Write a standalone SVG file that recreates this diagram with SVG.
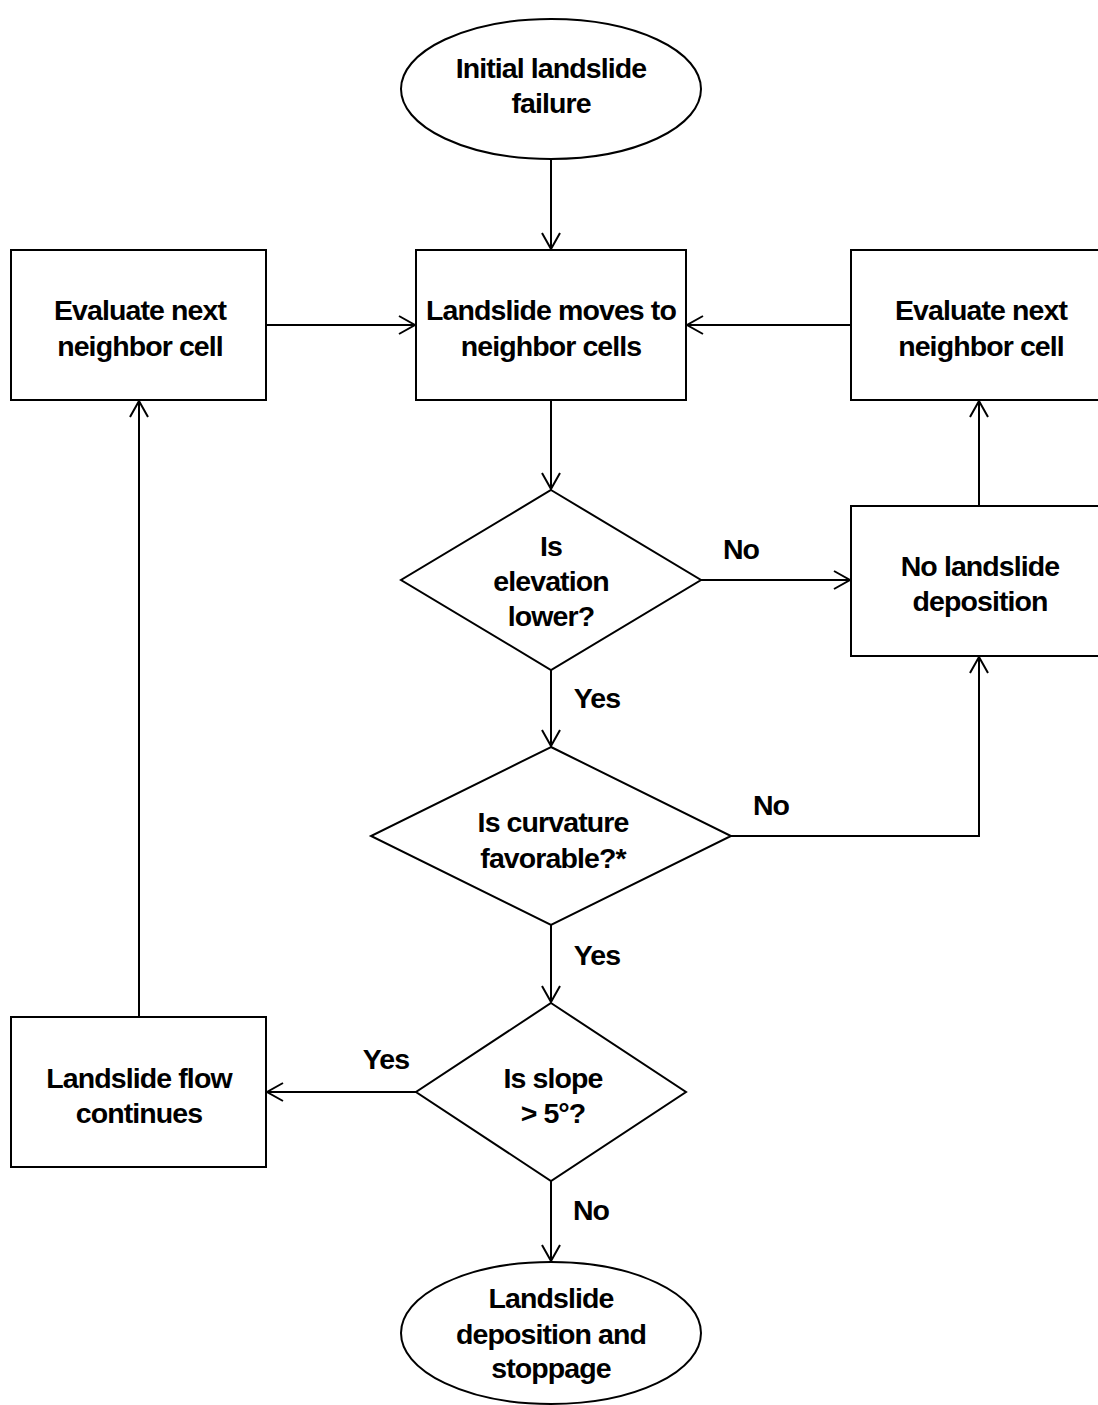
<svg xmlns="http://www.w3.org/2000/svg" width="1098" height="1405" viewBox="0 0 1098 1405">
  <style>
    .shape { fill: #ffffff; stroke: #000000; stroke-width: 2; }
    .edge { fill: none; stroke: #000000; stroke-width: 2; }
    text { font-family: "Liberation Sans", Arial, sans-serif; font-weight: bold; font-size: 28.5px; letter-spacing: -0.9px; fill: #000000; text-anchor: middle; }
  </style>
  <defs>
    <marker id="arrow" viewBox="0 0 20 20" refX="18" refY="10" markerWidth="20" markerHeight="20" markerUnits="userSpaceOnUse" orient="auto">
      <path d="M2,1 L18,10 L2,19" fill="none" stroke="#000000" stroke-width="2"/>
    </marker>
  </defs>
  <rect width="1098" height="1405" fill="#ffffff"/>

  <!-- connectors -->
  <g id="connectors">
    <line class="edge" x1="551" y1="160" x2="551" y2="249" marker-end="url(#arrow)"/>
    <line class="edge" x1="266" y1="325" x2="415" y2="325" marker-end="url(#arrow)"/>
    <line class="edge" x1="851" y1="325" x2="687" y2="325" marker-end="url(#arrow)"/>
    <line class="edge" x1="551" y1="400" x2="551" y2="489" marker-end="url(#arrow)"/>
    <line class="edge" x1="701" y1="580" x2="850" y2="580" marker-end="url(#arrow)"/>
    <line class="edge" x1="979" y1="506" x2="979" y2="401" marker-end="url(#arrow)"/>
    <line class="edge" x1="551" y1="670" x2="551" y2="746" marker-end="url(#arrow)"/>
    <polyline class="edge" points="731,836 979,836 979,657" marker-end="url(#arrow)"/>
    <line class="edge" x1="551" y1="925" x2="551" y2="1002" marker-end="url(#arrow)"/>
    <line class="edge" x1="416" y1="1092" x2="267" y2="1092" marker-end="url(#arrow)"/>
    <line class="edge" x1="139" y1="1017" x2="139" y2="401" marker-end="url(#arrow)"/>
    <line class="edge" x1="551" y1="1181" x2="551" y2="1261" marker-end="url(#arrow)"/>
    <text x="741" y="559">No</text>
    <text x="597" y="708">Yes</text>
    <text x="771" y="815">No</text>
    <text x="597" y="965">Yes</text>
    <text x="386" y="1069">Yes</text>
    <text x="591" y="1220">No</text>
  </g>

  <g id="start">
    <ellipse class="shape" cx="551" cy="89" rx="150" ry="70"/>
    <text x="551" y="78">Initial landslide</text>
    <text x="551" y="113">failure</text>
  </g>

  <g id="moves">
    <rect class="shape" x="416" y="250" width="270" height="150"/>
    <text x="551" y="320">Landslide moves to</text>
    <text x="551" y="356">neighbor cells</text>
  </g>

  <g id="next-left">
    <rect class="shape" x="11" y="250" width="255" height="150"/>
    <text x="140" y="320">Evaluate next</text>
    <text x="140" y="356">neighbor cell</text>
  </g>

  <g id="next-right">
    <rect class="shape" x="851" y="250" width="255" height="150"/>
    <text x="981" y="320">Evaluate next</text>
    <text x="981" y="356">neighbor cell</text>
  </g>

  <g id="elevation">
    <polygon class="shape" points="551,490 701,580 551,670 401,580"/>
    <text x="551" y="556">Is</text>
    <text x="551" y="591">elevation</text>
    <text x="551" y="626">lower?</text>
  </g>

  <g id="no-deposition">
    <rect class="shape" x="851" y="506" width="255" height="150"/>
    <text x="980" y="576">No landslide</text>
    <text x="980" y="611">deposition</text>
  </g>

  <g id="curvature">
    <polygon class="shape" points="551,747 731,836 551,925 371,836"/>
    <text x="553" y="832">Is curvature</text>
    <text x="553" y="868">favorable?*</text>
  </g>

  <g id="slope">
    <polygon class="shape" points="551,1003 686,1092 551,1181 416,1092"/>
    <text x="553" y="1088">Is slope</text>
    <text x="553" y="1123">&gt; 5°?</text>
  </g>

  <g id="flow-continues">
    <rect class="shape" x="11" y="1017" width="255" height="150"/>
    <text x="139" y="1088">Landslide flow</text>
    <text x="139" y="1123">continues</text>
  </g>

  <g id="stoppage">
    <ellipse class="shape" cx="551" cy="1333" rx="150" ry="71"/>
    <text x="551" y="1308">Landslide</text>
    <text x="551" y="1344">deposition and</text>
    <text x="551" y="1378">stoppage</text>
  </g>
</svg>
